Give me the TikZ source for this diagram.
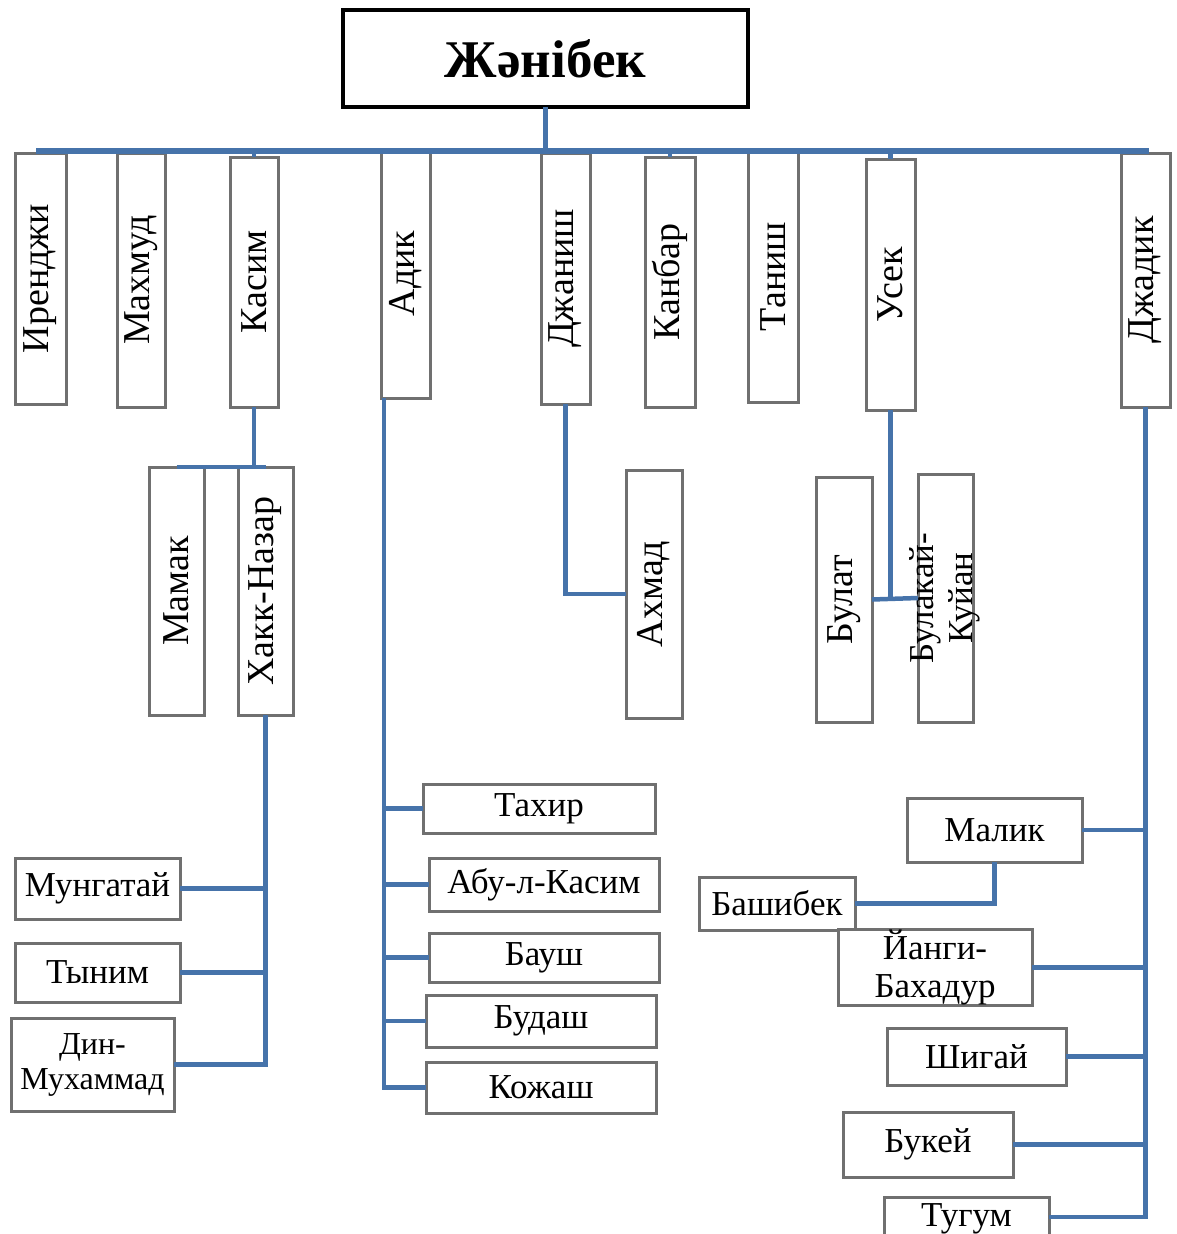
\documentclass[tikz,border=0pt]{standalone}
\usepackage{fontspec}
\setmainfont{Liberation Serif}
\definecolor{conn}{RGB}{70,115,170}
\definecolor{boxline}{RGB}{112,112,112}
\newcommand\rotlabel[1]{\rotatebox{90}{#1}}
\tikzset{
  every node/.style={inner sep=0pt, outer sep=0pt},
  hbox/.style={draw=boxline, line width=3pt, fill=white, align=center,
    font=\fontsize{35}{36}\selectfont},
  vbox/.style={draw=boxline, line width=3pt, fill=white,
    font=\fontsize{38}{40}\selectfont},
  rootbox/.style={draw=black, line width=4pt, fill=white,
    font=\bfseries\fontsize{53}{60}\selectfont},
  link/.style={draw=conn, line width=4.5pt},
  mainbar/.style={draw=conn, line width=6pt}
}
\begin{document}
\begin{tikzpicture}[x=1pt,y=-1pt]
\useasboundingbox (0,0) rectangle (1176,1234);
\begin{scope}
\clip (0,0) rectangle (1176,1234);
% root
\node[rootbox, minimum width=405, minimum height=97] (root) at (545.5,58.5) {Жәнібек};
% first row
\node[vbox, minimum width=51, minimum height=251] (irendzhi) at (40.5,278.5) {\rotlabel{Иренджи}};
\node[vbox, minimum width=48, minimum height=254] (makhmud) at (141,280) {\rotlabel{Махмуд}};
\node[vbox, minimum width=48, minimum height=250] (kasim) at (254,282) {\rotlabel{Касим}};
\node[vbox, minimum width=49, minimum height=249] (adik) at (405.5,273.5) {\rotlabel{Адик}};
\node[vbox, minimum width=49, minimum height=251] (dzhanish) at (565.5,278.5) {\rotlabel{Джаниш}};
\node[vbox, minimum width=50, minimum height=250] (kanbar) at (670,282) {\rotlabel{Канбар}};
\node[vbox, minimum width=50, minimum height=251] (tanish) at (773,276.5) {\rotlabel{Таниш}};
\node[vbox, minimum width=49, minimum height=251] (usek) at (890.5,284.5) {\rotlabel{Усек}};
\node[vbox, minimum width=49, minimum height=254] (dzhadik) at (1145.5,280) {\rotlabel{Джадик}};
% main bar
\coordinate (barL) at (36,151);
\coordinate (barR) at (1149,151);
\draw[mainbar] (barL) -- (barR);
\draw[link] (root.south) -- (root.south |- barL);
\foreach \n in {irendzhi,makhmud,kasim,adik,dzhanish,kanbar,tanish,usek,dzhadik}
  \draw[link] (\n.north) -- (\n.north |- barL);
% second row
\node[vbox, minimum width=55, minimum height=248] (mamak) at (176.5,591) {\rotlabel{Мамак}};
\node[vbox, minimum width=55, minimum height=248] (hakknazar) at (265.5,591) {\rotlabel{Хакк-Назар}};
\node[vbox, minimum width=56, minimum height=248] (akhmad) at (654,594) {\rotlabel{Ахмад}};
\node[vbox, minimum width=56, minimum height=245] (bulat) at (844,599.5) {\rotlabel{Булат}};
\node[vbox, minimum width=55, minimum height=248, font=\fontsize{35}{39}\selectfont] (bulakay) at (945.5,598)
  {\makebox[0pt][c]{\rotlabel{\begin{tabular}{@{}c@{}}Булакай-\\Куйан\end{tabular}}}};
\draw[link] (kasim.south) -- (kasim.south |- mamak.north);
\draw[link] (mamak.north) -- (hakknazar.north);
\draw[link] (dzhanish.south) |- (akhmad.west);
\draw[link] (usek.south) -- (usek.south |- bulat.east);
\draw[link] (bulat.east) -- (bulakay.west);
% Hakk-Nazar children
\node[hbox, minimum width=165, minimum height=61] (mungatai) at (97.5,888.5) {Мунгатай};
\node[hbox, minimum width=165, minimum height=59] (tynym) at (97.5,972.5) {Тыним};
\node[hbox, minimum width=163, minimum height=93, font=\fontsize{32}{35}\selectfont] (dinm) at (92.5,1064.5) {Дин-\\Мухаммад};
\draw[link] (hakknazar.south) |- (dinm.east);
\draw[link] (mungatai.east) -- (mungatai.east -| hakknazar.south);
\draw[link] (tynym.east) -- (tynym.east -| hakknazar.south);
% Adik children
\node[hbox, minimum width=232, minimum height=49] (takhir) at (539,808.5) {Тахир};
\node[hbox, minimum width=230, minimum height=53] (abu) at (544,884.5) {Абу-л-Касим};
\node[hbox, minimum width=230, minimum height=49] (baush) at (544,957.5) {Бауш};
\node[hbox, minimum width=230, minimum height=52] (budash) at (541,1021) {Будаш};
\node[hbox, minimum width=230, minimum height=51] (kozhash) at (541,1087.5) {Кожаш};
\coordinate (adikL) at ([xshift=3pt]adik.south west);
\draw[link] (adikL) |- (kozhash.west);
\foreach \n in {takhir,abu,baush,budash}
  \draw[link] (\n.west) -- (\n.west -| adikL);
% Dzhadik children
\node[hbox, minimum width=175, minimum height=64] (malik) at (994.5,830) {Малик};
\node[hbox, minimum width=156, minimum height=53] (bashibek) at (777,903.5) {Башибек};
\node[hbox, minimum width=194, minimum height=75, font=\fontsize{35}{38}\selectfont] (yangi) at (935,967.5) {Йанги-\\Бахадур};
\node[hbox, minimum width=179, minimum height=57] (shigai) at (976.5,1056.5) {Шигай};
\node[hbox, minimum width=170, minimum height=65] (bukei) at (928,1144.5) {Букей};
\node[hbox, minimum width=165, minimum height=65, text height=23pt, text depth=30pt, anchor=north] (tugum) at (966.5,1197) {Тугум};
\draw[link] (malik.south) |- (bashibek.east);
\draw[link] (dzhadik.south) |- ([yshift=-20pt]tugum.north east);
\foreach \n in {malik,yangi,shigai,bukei}
  \draw[link] (\n.east) -- (\n.east -| dzhadik.south);
\end{scope}
\end{tikzpicture}
\end{document}
